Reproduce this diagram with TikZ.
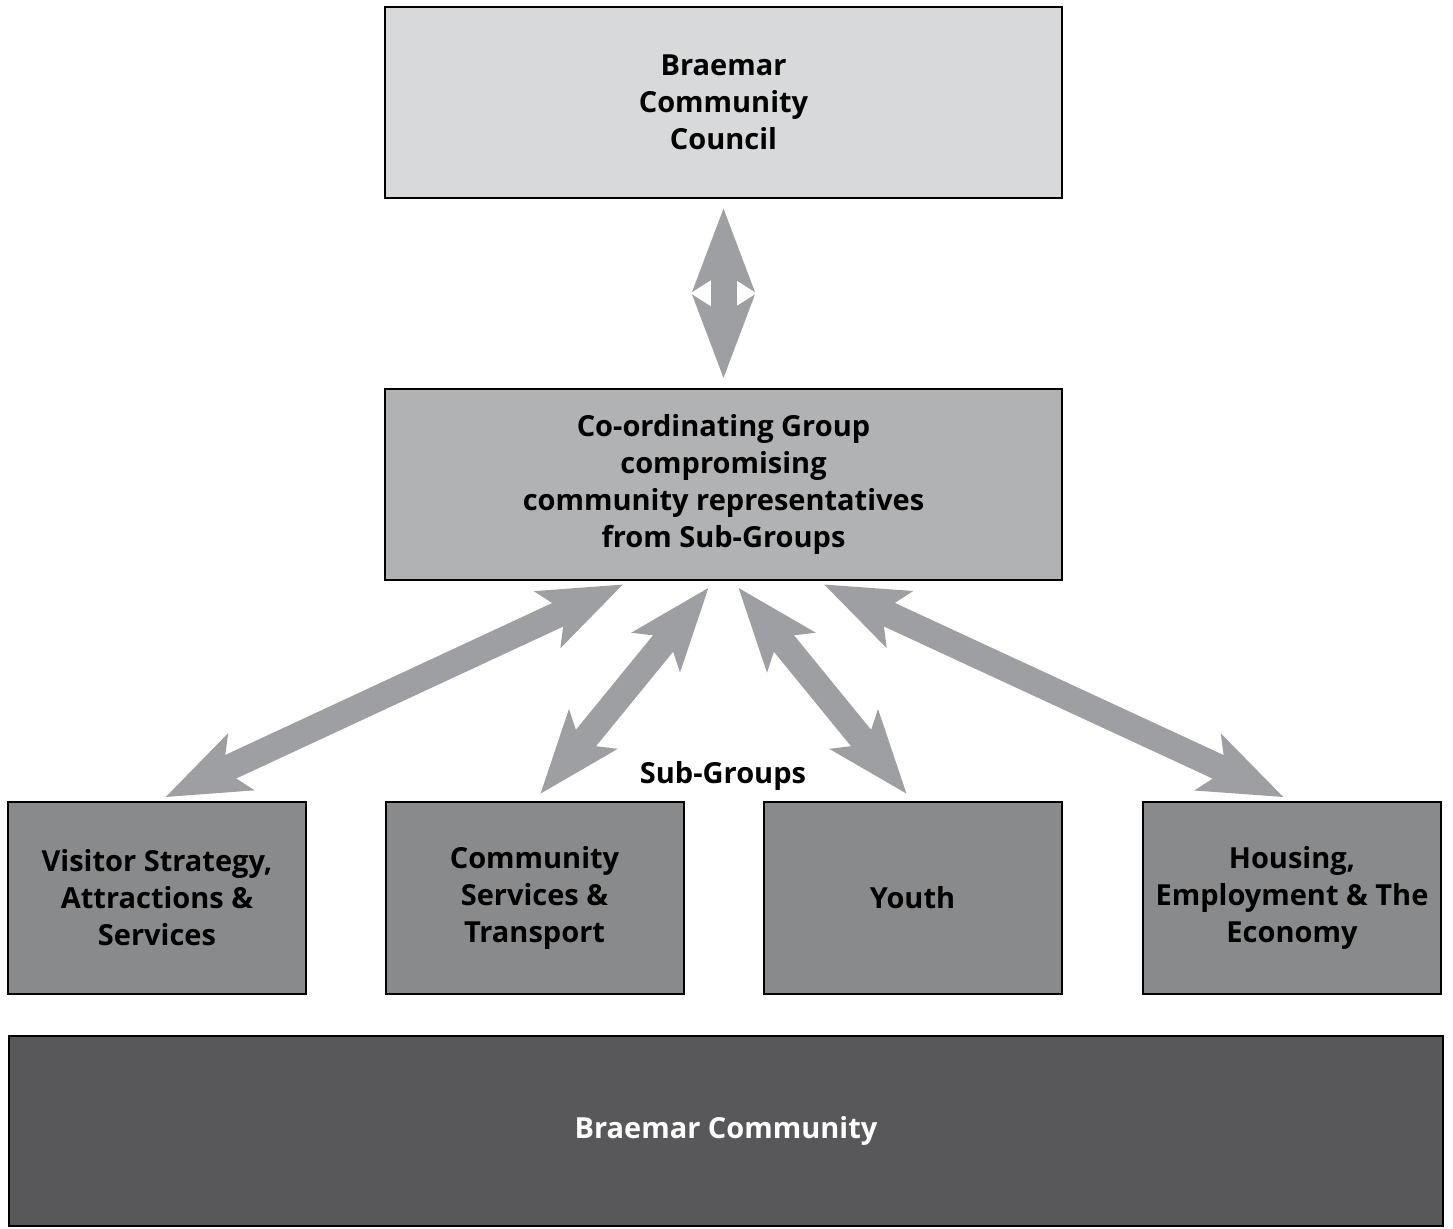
\documentclass[tikz,border=0pt]{standalone}
\usepackage{fontspec}
\setmainfont{Open Sans}
\usetikzlibrary{arrows.meta,positioning}

\definecolor{councilgray}{HTML}{D8D9DA}
\definecolor{coordgray}{HTML}{B1B2B4}
\definecolor{subgray}{HTML}{898A8C}
\definecolor{basegray}{HTML}{58585A}
\definecolor{arrowgray}{HTML}{9D9FA2}

\tikzset{
  box/.style={draw=black, line width=1pt, align=center, inner sep=1pt,
              font=\fontsize{14.5}{18.5}\selectfont\bfseries},
  bigbox/.style={box, minimum width=338.5pt, minimum height=95.5pt},
  subbox/.style={box, fill=subgray, minimum width=149pt, minimum height=96pt},
  biarrow/.style={draw=arrowgray, line width=13pt,
                  {Stealth[length=41pt,width=30pt,inset=9pt]}-{Stealth[length=41pt,width=30pt,inset=9pt]},
                  shorten <=4.5pt, shorten >=4.5pt}
}

\begin{document}
\begin{tikzpicture}[x=0.5pt, y=-0.5pt]
  \useasboundingbox (0,0) rectangle (1453,1228);

  % top and middle level
  \node[bigbox, fill=councilgray] (council) at (723.5,102.5)
    {Braemar\\Community\\Council};
  \node[bigbox, fill=coordgray] (coord) at (723.5,484)
    {Co-ordinating Group\\compromising\\community representatives\\from Sub-Groups};

  % sub-groups
  \node[subbox] (visitor)  at (157,898)    {Visitor Strategy,\\Attractions \&\\Services};
  \node[subbox] (services) at (534.5,898)  {Community\\Services \&\\Transport};
  \node[subbox] (youth)    at (912.5,898)  {Youth};
  \node[subbox] (housing)  at (1292,898)   {Housing,\\Employment \& The\\Economy};
  \node[font=\fontsize{14.5}{18.5}\selectfont\bfseries] (sublabel) at (723,776) {Sub-Groups};

  % whole community
  \node[box, fill=basegray, text=white, minimum width=717pt, minimum height=95pt]
    (community) at (726,1131) {Braemar Community};

  % links
  \draw[biarrow] (council.south) -- (coord.north);
  \draw[biarrow] ([xshift=-46pt]coord.south) -- (visitor.north);
  \draw[biarrow] ([xshift=-4.5pt]coord.south) -- (services.north);
  \draw[biarrow] ([xshift=4.5pt]coord.south) -- (youth.north);
  \draw[biarrow] ([xshift=46pt]coord.south) -- (housing.north);
\end{tikzpicture}
\end{document}
